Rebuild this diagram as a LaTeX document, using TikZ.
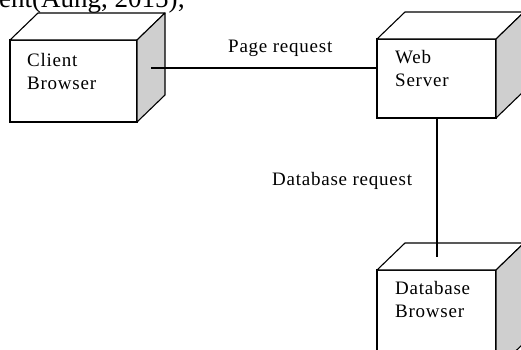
\documentclass[tikz,border=0pt]{standalone}
\usepackage{fontspec}
\setmainfont{Liberation Serif}
\usetikzlibrary{calc}
\definecolor{sideshade}{HTML}{CFCFCF}
\tikzset{
  front/.style={draw, line width=1.1pt, fill=white, inner sep=0pt, outer sep=0pt, anchor=north west},
  faceline/.style={draw, line width=1.1pt, line join=round},
  boxtext/.style={anchor=base west, align=left, inner sep=0pt,
    font=\fontsize{19}{22.5}\selectfont\addfontfeature{LetterSpace=4}},
  linktext/.style={anchor=base west, inner sep=0pt,
    font=\fontsize{19}{22}\selectfont\addfontfeature{LetterSpace=4}},
  link/.style={draw, line width=1.1pt}
}
\newcommand\solidbox[1]{%
  \path[faceline, fill=white] (#1.north west) -- ++(28,-27) -- ($(#1.north east)+(28,-27)$) -- (#1.north east) -- cycle;
  \path[faceline, fill=sideshade] (#1.north east) -- ++(28,-27) -- ($(#1.south east)+(28,-27)$) -- (#1.south east) -- cycle;
}
\begin{document}
\begin{tikzpicture}[x=1pt, y=-1pt]
  \useasboundingbox (0,0) rectangle (521,349);
  \clip (0,0) rectangle (521,349);

  % running text of the page, cut by the top edge
  \node[anchor=base west, inner sep=0pt, font=\fontsize{27}{30}\selectfont] (cite) at (-1,7) {ent(Aung, 2015);};

  % the three nodes, drawn as solid boxes
  \node[front, minimum width=127pt, minimum height=82pt] (client) at (10,40) {};
  \solidbox{client}
  \node[front, minimum width=119pt, minimum height=79pt] (web) at (377,39) {};
  \solidbox{web}
  \node[front, minimum width=119pt, minimum height=100pt] (db) at (377,270) {};
  \solidbox{db}

  % two-line names; the base anchor sits on the second line
  \node[boxtext] (clientlabel) at (27,89) {Client\\Browser};
  \node[boxtext] (weblabel) at (395,86) {Web\\Server};
  \node[boxtext] (dblabel) at (395,317) {Database\\Browser};

  % connectors
  \coordinate (clientside) at (151,68);
  \draw[link] (clientside) -- (clientside -| web.west);
  \coordinate (dbtop) at (437,257);
  \draw[link] (web.south -| dbtop) -- (dbtop);

  \node[linktext] (pagereq) at (228,52) {Page request};
  \node[linktext] (dbreq) at (272,185) {Database request};
\end{tikzpicture}
\end{document}
